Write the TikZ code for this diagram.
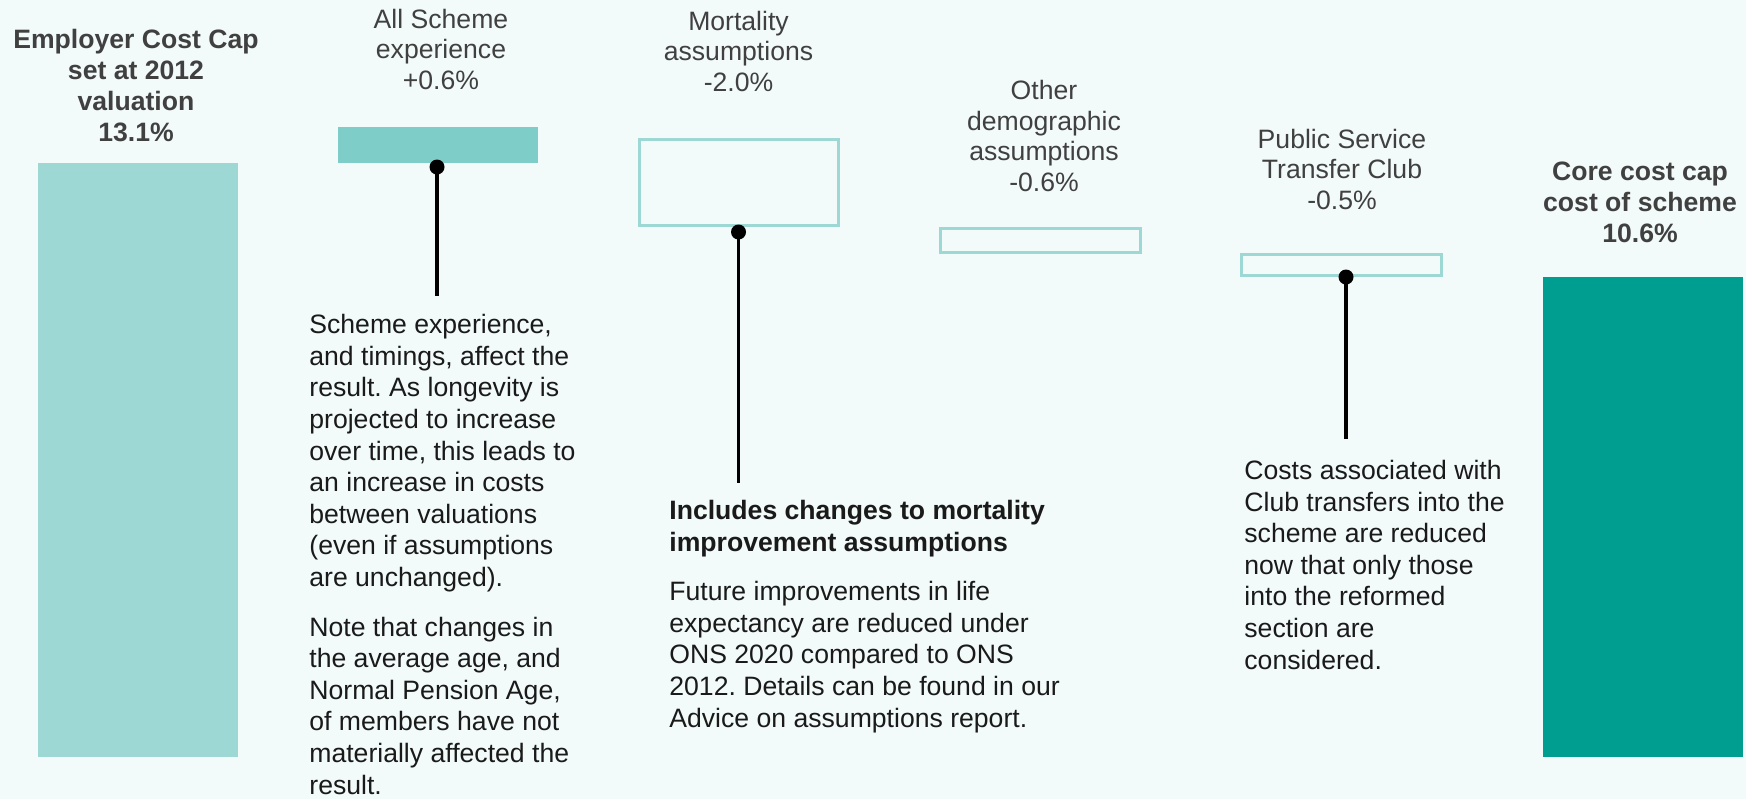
\documentclass[tikz,border=0pt]{standalone}
\usepackage{fontspec}
\setmainfont{Liberation Sans}
\frenchspacing
\definecolor{bgpale}{HTML}{F2FAFA}
\definecolor{barpale}{HTML}{9DD8D5}
\definecolor{barmid}{HTML}{7FCDC8}
\definecolor{barcore}{HTML}{009D91}
\definecolor{lblgray}{HTML}{404040}
\definecolor{notetext}{HTML}{1A1A1A}
\begin{document}
\begin{tikzpicture}[x=0.5pt,y=-0.5pt,
	bar/.style={inner sep=0pt,outer sep=0pt,minimum width=100pt},
	gapbar/.style={bar,draw=barpale,line width=1.5pt},
	lbl/.style={anchor=base,align=center,text=lblgray,inner sep=0pt,font=\fontsize{13.3pt}{15.2pt}\selectfont},
	lblbold/.style={lbl,font=\fontsize{13.3pt}{15.4pt}\selectfont\bfseries},
	note/.style={anchor=base west,align=left,text=notetext,inner sep=0pt,font=\fontsize{13.3pt}{15.8pt}\selectfont\frenchspacing},
	pin/.style={circle,fill=black,inner sep=0pt,minimum size=7.5pt},
	stem/.style={line width=1.7pt}]
\fill[bgpale] (0,0) rectangle (1746,799);
\useasboundingbox (0,0) rectangle (1746,799);

\node[bar,fill=barpale,minimum height=297pt] (cap12) at (137.5,460) {};
\node[bar,fill=barmid,minimum height=18pt] (expbar) at (438,145) {};
\node[gapbar,minimum width=99.5pt,minimum height=43pt] (mortbar) at (739,182.5) {};
\node[gapbar,minimum height=12pt] (demobar) at (1040.5,240.5) {};
\node[gapbar,minimum height=10.5pt] (clubbar) at (1341.5,265) {};
\node[bar,fill=barcore,minimum height=240pt] (corebar) at (1643,517) {};

\node[lblbold] (cap12lbl) at (136,141) {Employer Cost Cap\\set at 2012\\valuation\\13.1\%};
\node[lbl] (explbl) at (441,89) {All Scheme\\experience\\+0.6\%};
\node[lbl] (mortlbl) at (738.5,91) {Mortality\\assumptions\\-2.0\%};
\node[lbl] (demolbl) at (1044,191) {Other\\demographic\\assumptions\\-0.6\%};
\node[lbl] (clublbl) at (1342,209) {Public Service\\Transfer Club\\-0.5\%};
\node[lblbold] (corelbl) at (1640,242) {Core cost cap\\cost of scheme\\10.6\%};

\node[pin] (expdot) at (437,167) {};
\node[pin] (mortdot) at (738.5,232) {};
\node[pin] (clubdot) at (1346,277) {};
\coordinate (expend) at (437,296);
\coordinate (mortend) at (738.5,483);
\coordinate (clubend) at (1346,439);
\draw[stem] (expdot.center) -- (expend);
\draw[stem] (mortdot.center) -- (mortend);
\draw[stem] (clubdot.center) -- (clubend);

\node[note] (expnote) at (309,794) {Scheme experience,\\and timings, affect the\\result. As longevity is\\projected to increase\\over time, this leads to\\an increase in costs\\between valuations\\(even if assumptions\\are unchanged).\\[9pt]Note that changes in\\the average age, and\\Normal Pension Age,\\of members have not\\materially affected the\\result.};
\node[note] (mortnote) at (669,727) {\textbf{Includes changes to mortality}\\\textbf{improvement assumptions}\\[9pt]Future improvements in life\\expectancy are reduced under\\ONS 2020 compared to ONS\\2012. Details can be found in our\\Advice on assumptions report.};
\node[note] (clubnote) at (1244,669) {Costs associated with\\Club transfers into the\\scheme are reduced\\now that only those\\into the reformed\\section are\\considered.};
\end{tikzpicture}
\end{document}
